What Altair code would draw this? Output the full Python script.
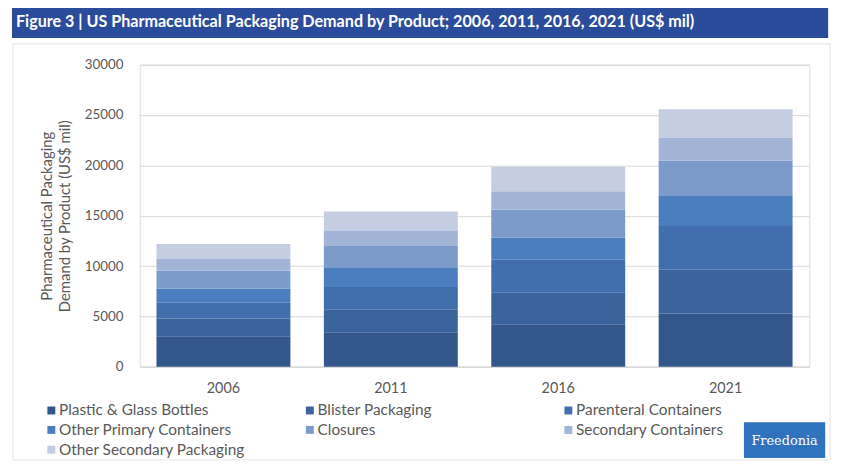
import altair as alt
import pandas as pd

years = ["2006", "2011", "2016", "2021"]
products = [
    "Plastic & Glass Bottles",
    "Blister Packaging",
    "Parenteral Containers",
    "Other Primary Containers",
    "Closures",
    "Secondary Containers",
    "Other Secondary Packaging",
]
plastic_glass = [3020, 3440, 4230, 5280]
blister = [1770, 2260, 3180, 4360]
parenteral = [1570, 2230, 3210, 4330]
other_primary = [1380, 1870, 2190, 2980]
closures = [1830, 2190, 2790, 3510]
secondary = [1120, 1570, 1830, 2260]
other_secondary = [1500, 1870, 2430, 2850]

colors = ["#34578B", "#3B639C", "#416EAD", "#4A7EBF", "#7C9BCB", "#A3B5D6", "#C4CDE1"]

series = [plastic_glass, blister, parenteral, other_primary, closures, secondary, other_secondary]
rows = []
for i, (name, vals) in enumerate(zip(products, series)):
    for y, v in zip(years, vals):
        rows.append({"Year": y, "Product": name, "Value": v, "idx": i})
df = pd.DataFrame(rows)

FONT = "Lato"
GRAY = "#595959"

bars = alt.Chart(df).mark_bar().encode(
    x=alt.X("Year:N", sort=years,
            scale=alt.Scale(paddingInner=0.2, paddingOuter=0.1),
            axis=alt.Axis(title=None, labelAngle=0, ticks=False, labelPadding=15,
                          labelFontSize=14.5, labelColor=GRAY, labelFont=FONT,
                          domainColor="#D9D9D9", domainWidth=1.5, grid=False)),
    y=alt.Y("Value:Q", stack="zero",
            scale=alt.Scale(domain=[0, 30000], nice=False),
            axis=alt.Axis(values=[0, 5000, 10000, 15000, 20000, 25000, 30000],
                          format="d", title=["Pharmaceutical Packaging", "Demand by Product (US$ mil)"],
                          titleFont=FONT, titleFontSize=15, titleFontWeight="normal", titleColor=GRAY,
                          titlePadding=12, titleLineHeight=18,
                          labelFont=FONT, labelFontSize=13.5, labelColor=GRAY, labelPadding=17,
                          ticks=False, domain=False, gridColor="#D9D9D9", gridWidth=1)),
    color=alt.Color("Product:N", sort=products,
                    scale=alt.Scale(domain=products, range=colors),
                    legend=alt.Legend(title=None, orient="none", legendX=-97, legendY=341,
                                      direction="horizontal", columns=3, gridAlign="all",
                                      columnPadding=57, rowPadding=3, labelLimit=400,
                                      symbolType="square", symbolSize=64, symbolStrokeWidth=0,
                                      labelFont=FONT, labelFontSize=15.5, labelColor=GRAY,
                                      labelOffset=0)),
    order=alt.Order("idx:Q", sort="ascending"),
)

# Decorations: frame, title banner, logo
frame = alt.Chart(pd.DataFrame({"a": [0]})).mark_rect(
    fill=None, stroke="#E3E3E3", strokeWidth=1
).encode(x=alt.value(-128), x2=alt.value(697), y=alt.value(-21), y2=alt.value(399))

banner = alt.Chart(pd.DataFrame({"a": [0]})).mark_rect(color="#2B4C9B").encode(
    x=alt.value(-129), x2=alt.value(695), y=alt.value(-59), y2=alt.value(-27))

banner_text = alt.Chart(pd.DataFrame({"t": ["Figure 3 | US Pharmaceutical Packaging Demand by Product; 2006, 2011, 2016, 2021 (US$ mil)"]})).mark_text(
    align="left", baseline="middle", color="white", font=FONT, fontSize=16.3, fontWeight="bold"
).encode(text="t:N", x=alt.value(-125), y=alt.value(-43))

logo = alt.Chart(pd.DataFrame({"a": [0]})).mark_rect(color="#2F72BD").encode(
    x=alt.value(610), x2=alt.value(692), y=alt.value(361), y2=alt.value(397))

logo_text = alt.Chart(pd.DataFrame({"t": ["Freedonia"]})).mark_text(
    align="center", baseline="middle", color="white", font="DejaVu Serif", fontSize=13
).encode(text="t:N", x=alt.value(651), y=alt.value(380))

chart = alt.layer(frame, banner, banner_text, bars, logo, logo_text).properties(
    width=676, height=305,
    padding={"left": 133, "top": 55, "right": 33, "bottom": 101},
    autosize=alt.AutoSizeParams(type="none"),
).configure_view(stroke=None).configure(background="white")

chart.save("out.html", embed_options={"renderer": "svg", "actions": False})
